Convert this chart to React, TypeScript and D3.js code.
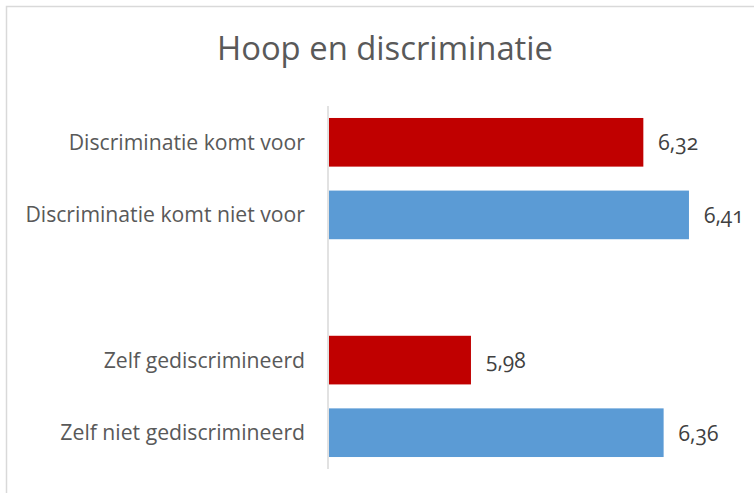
import React from "react";
import * as d3 from "d3";

const categories = [
  "Discriminatie komt voor",
  "Discriminatie komt niet voor",
  "",
  "Zelf gediscrimineerd",
  "Zelf niet gediscrimineerd",
];
const values: (number | null)[] = [6.32, 6.41, null, 5.98, 6.36];
const barColors = ["#C00000", "#5B9BD5", "none", "#C00000", "#5B9BD5"];
const valueLabels = ["6,32", "6,41", "", "5,98", "6,36"];
const title = "Hoop en discriminatie";
const xDomain: [number, number] = [5.7, 6.5];

const W = 754;
const H = 493;
const FONT = "'Open Sans', 'Noto Sans', sans-serif";

export default function App() {
  const x = d3.scaleLinear().domain(xDomain).range([329, 734.6]);
  const y = d3
    .scaleBand<number>()
    .domain(d3.range(categories.length))
    .range([106, 469])
    .paddingInner(0.33)
    .paddingOuter(0.165);

  return (
    <svg
      width={W}
      height={H}
      style={{ position: "absolute", left: 0, top: 0, background: "#fff" }}
      fontFamily={FONT}
    >
      <rect x={6.5} y={6.5} width={W + 20} height={H + 20} fill="#fff" stroke="#d9d9d9" strokeWidth={1.5} />
      <text x={385} y={60} textAnchor="middle" fontSize={32.8} fill="#595959">
        {title}
      </text>
      {categories.map((c, i) => {
        const v = values[i];
        const yy = y(i)!;
        const bw = y.bandwidth();
        return (
          <g key={i}>
            {v !== null && (
              <rect x={x(xDomain[0])} y={yy} width={x(v) - x(xDomain[0])} height={bw} fill={barColors[i]} />
            )}
            {c && (
              <text
                x={305}
                y={yy + bw / 2}
                dy="0.35em"
                textAnchor="end"
                fontSize={21.2}
                fill="#595959"
              >
                {c}
              </text>
            )}
            {v !== null && (
              <text
                x={x(v) + 15}
                y={yy + bw / 2}
                dy="0.38em"
                fontSize={21}
                fill="#404040"
                style={{ fontFeatureSettings: "'onum'" }}
              >
                {valueLabels[i]}
              </text>
            )}
          </g>
        );
      })}
      <line x1={328} x2={328} y1={y.range()[0]} y2={y.range()[1]} stroke="#d9d9d9" strokeWidth={1.5} />
    </svg>
  );
}
